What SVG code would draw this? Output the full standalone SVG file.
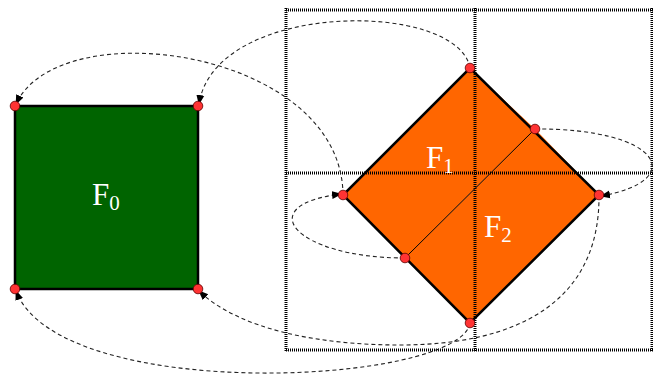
<svg xmlns="http://www.w3.org/2000/svg" width="653" height="376" viewBox="0 0 653 376">
<style>
.lbl{font-family:"Liberation Serif","DejaVu Serif",serif;fill:#fff;font-size:31px}
.sub{font-size:21px}
.grid{stroke:#000;stroke-width:3;stroke-dasharray:1 1;fill:none}
.edge{fill:none;stroke:#222;stroke-width:1.1;stroke-dasharray:4 3;marker-end:url(#ah)}
.pt{fill:#ff3333;stroke:#5a0000;stroke-width:0.8}
.out{fill:none;stroke:#000;stroke-width:2.5;stroke-linejoin:miter}
</style>
<defs>
<marker id="ah" viewBox="0 0 10 10" refX="9" refY="5" markerWidth="10" markerHeight="10" markerUnits="userSpaceOnUse" orient="auto">
<path d="M0,1 L10,5 L0,9 Z" fill="#000"/>
</marker>
</defs>
<g id="F0">
<rect x="15" y="106" width="183" height="183" fill="#006400" stroke="#000" stroke-width="2.5"/>
<text class="lbl" x="92" y="205">F<tspan class="sub" dy="5">0</tspan></text>
</g>
<g id="F1">
<polygon points="343,195 470,68 535,129 405,258" fill="#ff6600"/>
</g>
<g id="F2">
<polygon points="535,129 599,195 470,323 405,258" fill="#ff6600"/>
</g>
<g id="grid">
<line class="grid" x1="286" y1="8" x2="286" y2="352"/>
<line class="grid" x1="475" y1="8" x2="475" y2="352"/>
<line class="grid" x1="652" y1="8" x2="652" y2="352"/>
<line class="grid" x1="286" y1="10" x2="653" y2="10"/>
<line class="grid" x1="286" y1="173" x2="653" y2="173"/>
<line class="grid" x1="286" y1="350" x2="653" y2="350"/>
</g>
<g id="diamond-outline">
<polygon class="out" points="470,68 599,195 470,323 343,195"/>
<line x1="535" y1="129" x2="405" y2="258" stroke="#000" stroke-width="1"/>
</g>
<g id="labels">
<text class="lbl" x="426" y="168">F<tspan class="sub" dy="5">1</tspan></text>
<text class="lbl" x="484" y="237">F<tspan class="sub" dy="5">2</tspan></text>
</g>
<g id="connectors">
<path class="edge" d="M470,68 C458,0 215,0 199,104"/>
<path class="edge" d="M343,195 C342,50 60,10 16,104"/>
<path class="edge" d="M535,129 C660,128 690,180 601,196"/>
<path class="edge" d="M405,258 C295,258 250,205 341,194"/>
<path class="edge" d="M599,195 C600,300 520,345 400,345 C320,345 240,330 199,291"/>
<path class="edge" d="M470,323 C460,385 60,405 16,291"/>
</g>
<g id="vertices">
<circle class="pt" cx="15" cy="106" r="4.8"/>
<circle class="pt" cx="198" cy="106" r="4.8"/>
<circle class="pt" cx="15" cy="289" r="4.8"/>
<circle class="pt" cx="198" cy="289" r="4.8"/>
<circle class="pt" cx="470" cy="68" r="4.8"/>
<circle class="pt" cx="599" cy="195" r="4.8"/>
<circle class="pt" cx="470" cy="323" r="4.8"/>
<circle class="pt" cx="343" cy="195" r="4.8"/>
<circle class="pt" cx="535" cy="129" r="4.8"/>
<circle class="pt" cx="405" cy="258" r="4.8"/>
</g>
</svg>
